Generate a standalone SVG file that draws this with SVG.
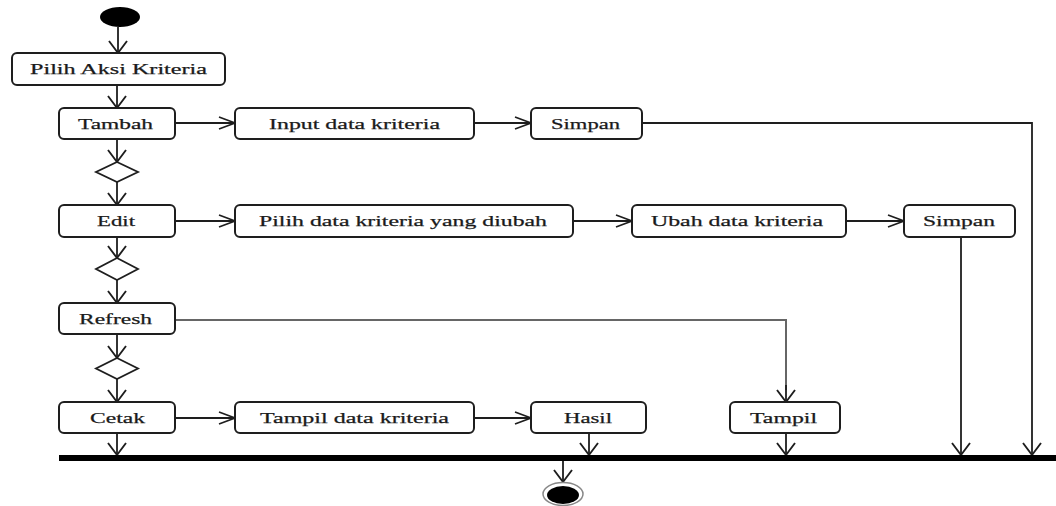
<svg xmlns="http://www.w3.org/2000/svg" width="1056" height="506" viewBox="0 0 1056 506">
<style>
.box{fill:#fff;stroke:#1e1e1e;stroke-width:2}
.dia{fill:#fff;stroke:#1e1e1e;stroke-width:1.8}
.t{font-family:"Liberation Serif","Times New Roman",serif;font-size:15.5px;fill:#1a1a1a;stroke:#1a1a1a;stroke-width:0.25;text-anchor:middle}
.c{fill:none;stroke:#1e1e1e;stroke-width:1.8}
.cg{fill:none;stroke:#666;stroke-width:2}
.h{marker-end:url(#mh)}
.v{marker-end:url(#mv)}
</style>
<defs>
<marker id="mh" markerUnits="userSpaceOnUse" orient="auto" refX="0" refY="0" markerWidth="40" markerHeight="40" viewBox="-20 -20 40 40" overflow="visible">
<path d="M-16,-6 L0,0 L-16,6" fill="none" stroke="#1e1e1e" stroke-width="1.7"/>
</marker>
<marker id="mv" markerUnits="userSpaceOnUse" orient="auto" refX="0" refY="0" markerWidth="40" markerHeight="40" viewBox="-20 -20 40 40" overflow="visible">
<path d="M-12,-9 L0,0 L-12,9" fill="none" stroke="#1e1e1e" stroke-width="1.9"/>
</marker>
</defs>
<rect width="1056" height="506" fill="#fff"/>

<g id="connectors">
<line class="c v" x1="118" y1="27" x2="118" y2="53"/>
<line class="c v" x1="117" y1="85" x2="117" y2="108"/>
<line class="c v" x1="117" y1="139" x2="117" y2="162"/>
<line class="c v" x1="117" y1="182" x2="117" y2="205"/>
<line class="c v" x1="117" y1="237" x2="117" y2="258"/>
<line class="c v" x1="117" y1="280" x2="117" y2="303"/>
<line class="c v" x1="117" y1="334" x2="117" y2="358"/>
<line class="c v" x1="117" y1="379" x2="117" y2="402"/>
<line class="c v" x1="117" y1="433" x2="117" y2="455"/>
<line class="c h" x1="175" y1="123" x2="235" y2="123"/>
<line class="c h" x1="474" y1="123" x2="531" y2="123"/>
<polyline class="c v" points="642,123 1032,123 1032,455"/>
<line class="c h" x1="175" y1="221" x2="235" y2="221"/>
<line class="c h" x1="573" y1="221" x2="632" y2="221"/>
<line class="c h" x1="846" y1="221" x2="904" y2="221"/>
<line class="c v" x1="961" y1="237" x2="961" y2="455"/>
<polyline class="cg" points="175,320 786,320 786,390"/>
<line class="c v" x1="786" y1="385" x2="786" y2="402"/>
<line class="c h" x1="175" y1="418" x2="235" y2="418"/>
<line class="c h" x1="474" y1="418" x2="531" y2="418"/>
<line class="c v" x1="589" y1="433" x2="589" y2="455"/>
<line class="c v" x1="786" y1="433" x2="786" y2="455"/>
<line class="c v" x1="563" y1="461" x2="563" y2="482"/>
</g>

<g id="start"><ellipse cx="120" cy="17" rx="20" ry="10" fill="#000"/></g>

<g id="pilih-aksi"><rect class="box" x="12" y="53" width="213" height="32" rx="5"/><text class="t" x="118.5" y="74" textLength="177" lengthAdjust="spacingAndGlyphs">Pilih Aksi Kriteria</text></g>

<g id="tambah"><rect class="box" x="59" y="108" width="116" height="31" rx="5"/><text class="t" x="115.5" y="128.5" textLength="75" lengthAdjust="spacingAndGlyphs">Tambah</text></g>
<g id="input-data"><rect class="box" x="235" y="108" width="239" height="31" rx="5"/><text class="t" x="354.5" y="128.5" textLength="171" lengthAdjust="spacingAndGlyphs">Input data kriteria</text></g>
<g id="simpan1"><rect class="box" x="531" y="108" width="111" height="31" rx="5"/><text class="t" x="585.5" y="128.5" textLength="69" lengthAdjust="spacingAndGlyphs">Simpan</text></g>

<g id="dec1"><polygon class="dia" points="117,162 138,172 117,182 96,172"/></g>

<g id="edit"><rect class="box" x="59" y="205" width="116" height="32" rx="5"/><text class="t" x="116" y="226" textLength="38" lengthAdjust="spacingAndGlyphs">Edit</text></g>
<g id="pilih-data"><rect class="box" x="235" y="205" width="338" height="32" rx="5"/><text class="t" x="403" y="226" textLength="288" lengthAdjust="spacingAndGlyphs">Pilih data kriteria yang diubah</text></g>
<g id="ubah-data"><rect class="box" x="632" y="205" width="214" height="32" rx="5"/><text class="t" x="737" y="226" textLength="172" lengthAdjust="spacingAndGlyphs">Ubah data kriteria</text></g>
<g id="simpan2"><rect class="box" x="904" y="205" width="111" height="32" rx="5"/><text class="t" x="959" y="226" textLength="72" lengthAdjust="spacingAndGlyphs">Simpan</text></g>

<g id="dec2"><polygon class="dia" points="117,258 138,269 117,280 96,269"/></g>

<g id="refresh"><rect class="box" x="59" y="303" width="116" height="31" rx="5"/><text class="t" x="115.5" y="323.5" textLength="73" lengthAdjust="spacingAndGlyphs">Refresh</text></g>

<g id="dec3"><polygon class="dia" points="117,358 138,368.5 117,379 96,368.5"/></g>

<g id="cetak"><rect class="box" x="59" y="402" width="116" height="31" rx="5"/><text class="t" x="117.5" y="422.5" textLength="55" lengthAdjust="spacingAndGlyphs">Cetak</text></g>
<g id="tampil-data"><rect class="box" x="235" y="402" width="239" height="31" rx="5"/><text class="t" x="354.5" y="422.5" textLength="189" lengthAdjust="spacingAndGlyphs">Tampil data kriteria</text></g>
<g id="hasil"><rect class="box" x="531" y="402" width="115" height="31" rx="5"/><text class="t" x="588" y="422.5" textLength="48" lengthAdjust="spacingAndGlyphs">Hasil</text></g>
<g id="tampil"><rect class="box" x="730" y="402" width="110" height="31" rx="5"/><text class="t" x="783.5" y="422.5" textLength="67" lengthAdjust="spacingAndGlyphs">Tampil</text></g>

<g id="join-bar"><rect x="59" y="455" width="997" height="6" fill="#000"/></g>

<g id="end"><ellipse cx="563" cy="494" rx="20" ry="11.5" fill="#fff" stroke="#888" stroke-width="1.5"/><ellipse cx="563" cy="495" rx="16" ry="9" fill="#000"/></g>
</svg>
